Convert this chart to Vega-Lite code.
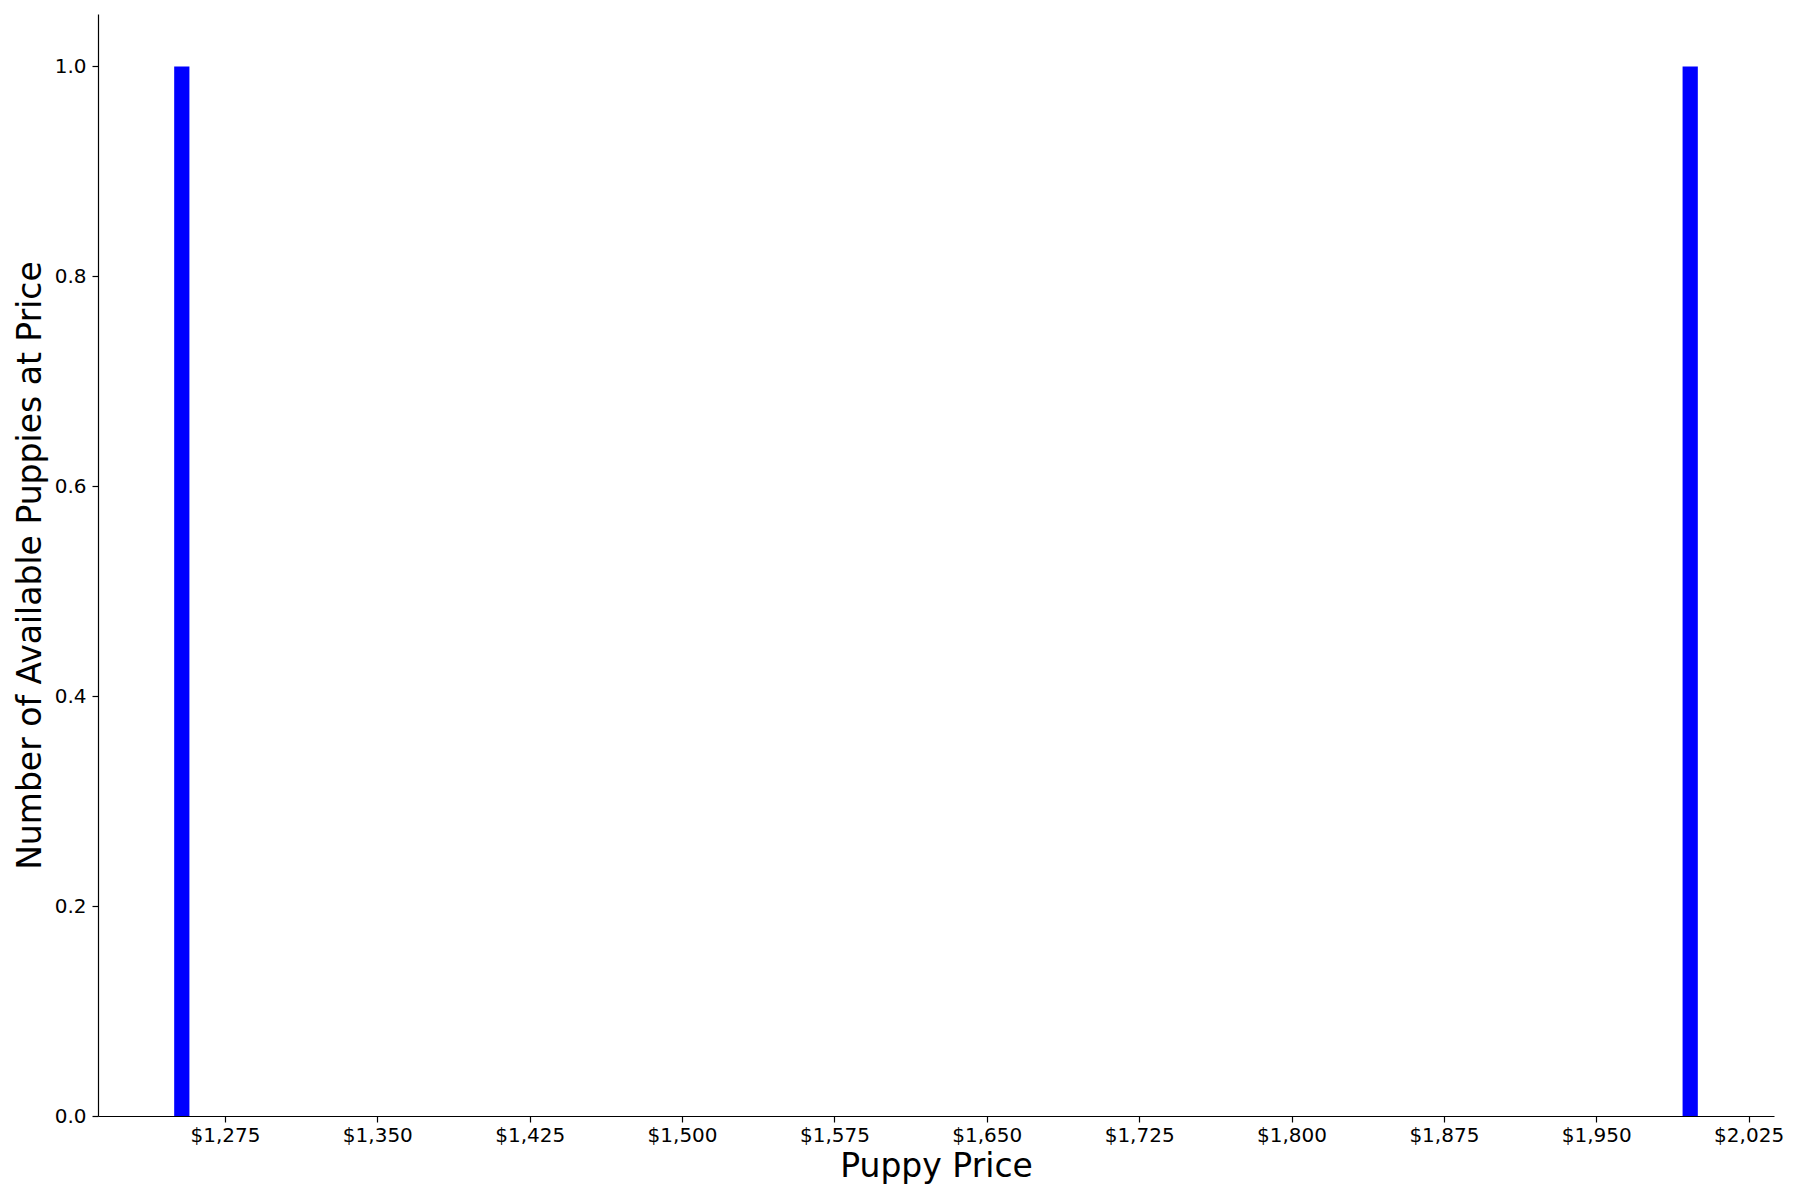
{
  "$schema": "https://vega.github.io/schema/vega-lite/v6.json",
  "description": "Histogram of puppy prices",
  "autosize": "none",
  "width": 1676,
  "height": 1102,
  "padding": {"left": 98, "top": 14, "right": 26, "bottom": 84},
  "background": "white",
  "config": {
    "view": {"stroke": null},
    "font": "DejaVu Sans",
    "axis": {
      "grid": false,
      "domainColor": "black",
      "domainWidth": 1.2,
      "tickColor": "black",
      "tickSize": 6,
      "tickWidth": 1.2,
      "labelColor": "black",
      "labelFont": "DejaVu Sans",
      "labelFontSize": 20,
      "titleColor": "black",
      "titleFont": "DejaVu Sans",
      "titleFontSize": 33,
      "titleFontWeight": "normal"
    }
  },
  "data": {
    "values": [
      {"bin_start": 1250, "bin_end": 1257.5, "count": 1},
      {"bin_start": 1992.5, "bin_end": 2000, "count": 1}
    ]
  },
  "mark": {"type": "bar", "color": "#0000ff"},
  "encoding": {
    "x": {
      "field": "bin_start",
      "type": "quantitative",
      "scale": {"domain": [1212.5, 2037.5], "nice": false, "zero": false},
      "axis": {
        "title": "Puppy Price",
        "values": [1275, 1350, 1425, 1500, 1575, 1650, 1725, 1800, 1875, 1950, 2025],
        "format": "$,.0f",
        "labelPadding": 3,
        "titlePadding": 5
      }
    },
    "x2": {"field": "bin_end"},
    "y": {
      "field": "count",
      "type": "quantitative",
      "scale": {"domain": [0, 1.05], "nice": false},
      "axis": {
        "title": "Number of Available Puppies at Price",
        "values": [0, 0.2, 0.4, 0.6, 0.8, 1.0],
        "format": ".1f",
        "labelPadding": 6,
        "titlePadding": 7
      }
    },
    "y2": {"datum": 0}
  }
}
